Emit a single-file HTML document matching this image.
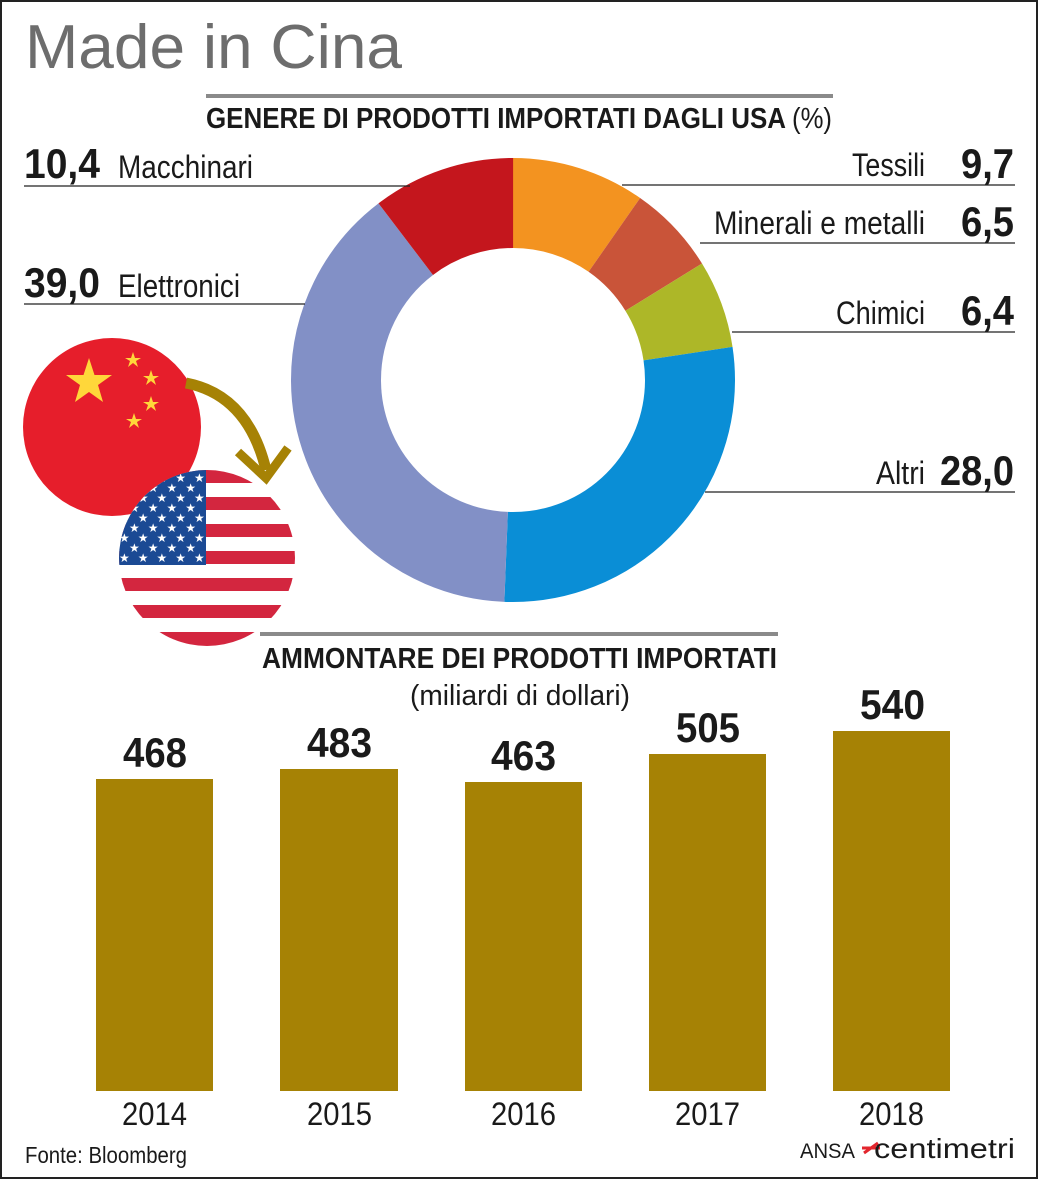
<!DOCTYPE html>
<html><head><meta charset="utf-8"><style>
html,body{margin:0;padding:0;background:#fff}
svg{display:block;font-family:"Liberation Sans",sans-serif}
</style></head><body>
<svg width="1040" height="1181" viewBox="0 0 1040 1181" xmlns="http://www.w3.org/2000/svg">
<rect x="1" y="1" width="1036" height="1177" fill="#fff" stroke="#222" stroke-width="2"/>
<text x="25" y="68" font-size="62" fill="#6d6d6d" textLength="377" lengthAdjust="spacingAndGlyphs">Made in Cina</text>
<rect x="206" y="94" width="627" height="4" fill="#8a8a8a"/>
<text x="206" y="128" font-size="29" font-weight="bold" fill="#1a1a1a" textLength="580" lengthAdjust="spacingAndGlyphs">GENERE DI PRODOTTI IMPORTATI DAGLI USA</text>
<text x="792" y="128" font-size="29" fill="#1a1a1a" textLength="40" lengthAdjust="spacingAndGlyphs">(%)</text>

<g transform="translate(513,380) rotate(-90)" fill="none" stroke-width="90">
<circle r="177" stroke="#f39320" stroke-dasharray="107.9 1004.2" stroke-dashoffset="0"/>
<circle r="177" stroke="#c95439" stroke-dasharray="72.3 1039.8" stroke-dashoffset="-107.9"/>
<circle r="177" stroke="#adb728" stroke-dasharray="71.2 1040.9" stroke-dashoffset="-180.2"/>
<circle r="177" stroke="#0a8ed6" stroke-dasharray="311.4 800.7" stroke-dashoffset="-251.4"/>
<circle r="177" stroke="#8290c6" stroke-dasharray="433.7 678.4" stroke-dashoffset="-562.8"/>
<circle r="177" stroke="#c4161d" stroke-dasharray="115.7 996.4" stroke-dashoffset="-996.5"/>
</g>

<g stroke="#222" stroke-width="1.3">
<line x1="24" y1="186" x2="410" y2="186"/>
<line x1="24" y1="304" x2="305" y2="304"/>
<line x1="622" y1="185" x2="1015" y2="185"/>
<line x1="700" y1="243" x2="1015" y2="243"/>
<line x1="732" y1="332" x2="1015" y2="332"/>
<line x1="705" y1="492" x2="1015" y2="492"/>
</g>
<g fill="#1a1a1a">
<text x="24" y="178" font-size="42" font-weight="bold" textLength="76" lengthAdjust="spacingAndGlyphs">10,4</text>
<text x="118" y="178" font-size="32" textLength="135" lengthAdjust="spacingAndGlyphs">Macchinari</text>
<text x="24" y="297" font-size="42" font-weight="bold" textLength="76" lengthAdjust="spacingAndGlyphs">39,0</text>
<text x="118" y="297" font-size="32" textLength="122" lengthAdjust="spacingAndGlyphs">Elettronici</text>
<text x="852" y="176" font-size="32" textLength="73" lengthAdjust="spacingAndGlyphs">Tessili</text>
<text x="961" y="178" font-size="42" font-weight="bold" textLength="53" lengthAdjust="spacingAndGlyphs">9,7</text>
<text x="714" y="234" font-size="32" textLength="211" lengthAdjust="spacingAndGlyphs">Minerali e metalli</text>
<text x="961" y="236" font-size="42" font-weight="bold" textLength="53" lengthAdjust="spacingAndGlyphs">6,5</text>
<text x="836" y="324" font-size="32" textLength="89" lengthAdjust="spacingAndGlyphs">Chimici</text>
<text x="961" y="325" font-size="42" font-weight="bold" textLength="53" lengthAdjust="spacingAndGlyphs">6,4</text>
<text x="876" y="484" font-size="32" textLength="49" lengthAdjust="spacingAndGlyphs">Altri</text>
<text x="940" y="485" font-size="42" font-weight="bold" textLength="74" lengthAdjust="spacingAndGlyphs">28,0</text>
</g>

<circle cx="112" cy="427" r="89" fill="#e61e2b"/>
<g fill="#ffd73a">
<polygon points="89,358 94.5,375 112,375 98,385 103,402 89,392 75,402 80,385 66,375 83.5,375"/>
<polygon points="133,352 135,358 141,358 136,361 138,367 133,363 128,367 130,361 125,358 131,358"/>
<polygon points="151,370 153,376 159,376 154,379 156,385 151,381 146,385 148,379 143,376 149,376"/>
<polygon points="151,396 153,402 159,402 154,405 156,411 151,407 146,411 148,405 143,402 149,402"/>
<polygon points="134,413 136,419 142,419 137,422 139,428 134,424 129,428 131,422 126,419 132,419"/>
</g>
<path d="M186,383 Q248,395 266,470" fill="none" stroke="#a68205" stroke-width="11"/>
<polyline points="238,452 266,478 288,448" fill="none" stroke="#a68205" stroke-width="9"/>
<defs><clipPath id="us"><circle cx="207" cy="558" r="88"/></clipPath></defs>
<g clip-path="url(#us)">
<rect x="115" y="468" width="190" height="185" fill="#fff"/>
<g fill="#d3263f">
<rect x="115" y="470" width="190" height="13"/>
<rect x="115" y="497" width="190" height="13"/>
<rect x="115" y="524" width="190" height="13"/>
<rect x="115" y="551" width="190" height="13"/>
<rect x="115" y="578" width="190" height="13"/>
<rect x="115" y="605" width="190" height="13"/>
<rect x="115" y="632" width="190" height="14"/>
</g>
<rect x="115" y="468" width="91" height="97" fill="#1b4a94"/>
<g fill="#fff" font-size="12">
<text x="119" y="482" letter-spacing="8">★★★★★</text>
<text x="129" y="492" letter-spacing="8">★★★★</text>
<text x="119" y="502" letter-spacing="8">★★★★★</text>
<text x="129" y="512" letter-spacing="8">★★★★</text>
<text x="119" y="522" letter-spacing="8">★★★★★</text>
<text x="129" y="532" letter-spacing="8">★★★★</text>
<text x="119" y="542" letter-spacing="8">★★★★★</text>
<text x="129" y="552" letter-spacing="8">★★★★</text>
<text x="119" y="562" letter-spacing="8">★★★★★</text>
</g>
</g>

<rect x="260" y="632" width="518" height="4" fill="#8a8a8a"/>
<text x="262" y="668" font-size="29" font-weight="bold" fill="#1a1a1a" textLength="515" lengthAdjust="spacingAndGlyphs">AMMONTARE DEI PRODOTTI IMPORTATI</text>
<text x="410" y="705" font-size="29" fill="#1a1a1a" textLength="220" lengthAdjust="spacingAndGlyphs">(miliardi di dollari)</text>

<g fill="#a68205">
<rect x="96" y="779" width="117" height="312"/>
<rect x="280" y="769" width="118" height="322"/>
<rect x="465" y="782" width="117" height="309"/>
<rect x="649" y="754" width="117" height="337"/>
<rect x="833" y="731" width="117" height="360"/>
</g>
<g fill="#1a1a1a" font-size="42" font-weight="bold">
<text x="123" y="767" textLength="64" lengthAdjust="spacingAndGlyphs">468</text>
<text x="307" y="757" textLength="65" lengthAdjust="spacingAndGlyphs">483</text>
<text x="491" y="770" textLength="65" lengthAdjust="spacingAndGlyphs">463</text>
<text x="676" y="742" textLength="64" lengthAdjust="spacingAndGlyphs">505</text>
<text x="860" y="719" textLength="65" lengthAdjust="spacingAndGlyphs">540</text>
</g>
<g fill="#1a1a1a" font-size="32">
<text x="122" y="1125" textLength="65" lengthAdjust="spacingAndGlyphs">2014</text>
<text x="307" y="1125" textLength="65" lengthAdjust="spacingAndGlyphs">2015</text>
<text x="491" y="1125" textLength="65" lengthAdjust="spacingAndGlyphs">2016</text>
<text x="675" y="1125" textLength="65" lengthAdjust="spacingAndGlyphs">2017</text>
<text x="859" y="1125" textLength="65" lengthAdjust="spacingAndGlyphs">2018</text>
</g>
<text x="25" y="1163" font-size="23" fill="#1a1a1a" textLength="162" lengthAdjust="spacingAndGlyphs">Fonte: Bloomberg</text>
<text x="800" y="1158" font-size="21" fill="#1a1a1a" textLength="55" lengthAdjust="spacingAndGlyphs">ANSA</text>
<line x1="864" y1="1153" x2="878" y2="1143" stroke="#e3262e" stroke-width="3"/>
<line x1="862" y1="1148" x2="880" y2="1148" stroke="#e3262e" stroke-width="3"/>
<text x="874" y="1158" font-size="28" fill="#1a1a1a" textLength="141" lengthAdjust="spacingAndGlyphs">centimetri</text>
</svg>
</body></html>
